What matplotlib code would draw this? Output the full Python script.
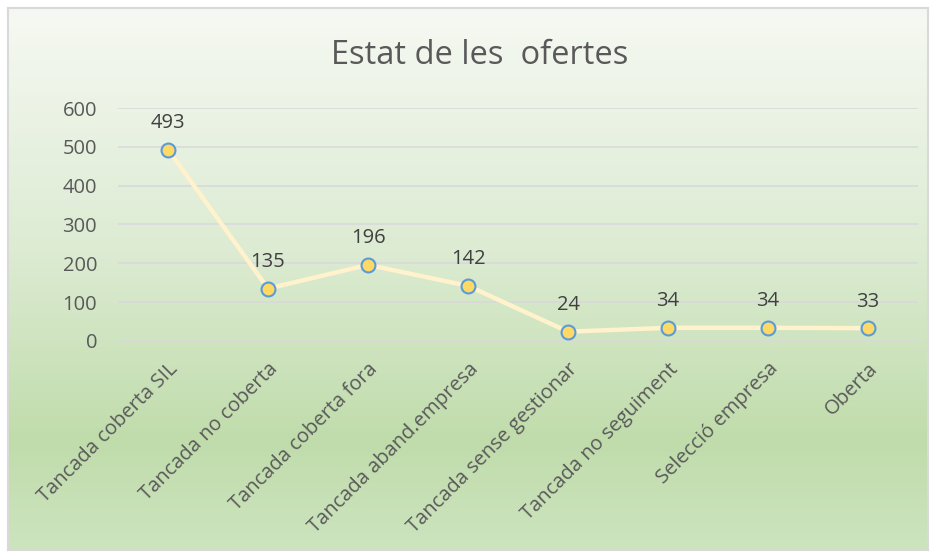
import numpy as np
import matplotlib.pyplot as plt
from matplotlib.colors import LinearSegmentedColormap

categories = ['Tancada coberta SIL', 'Tancada no coberta', 'Tancada coberta fora',
              'Tancada aband.empresa', 'Tancada sense gestionar', 'Tancada no seguiment',
              'Selecció empresa', 'Oberta']
values = [493, 135, 196, 142, 24, 34, 34, 33]
yticks = [0, 100, 200, 300, 400, 500, 600]

plt.rcParams['font.family'] = ['Open Sans', 'DejaVu Sans']

W, H = 936, 558
fig = plt.figure(figsize=(W / 100, H / 100), dpi=100)
fig.patch.set_facecolor('white')

# fondo con degradado
bg = fig.add_axes([8 / W, 8 / H, 920 / W, 542 / H], zorder=0)
grad = LinearSegmentedColormap.from_list('g', [(0.0, '#f6f9f3'), (0.45, '#dcebd2'),
                                               (0.8, '#c0dcab'), (1.0, '#cde4bf')])
bg.imshow(np.linspace(0, 1, 256).reshape(-1, 1), aspect='auto', cmap=grad,
          extent=[0, 1, 0, 1])
bg.set_xticks([])
bg.set_yticks([])
for s in bg.spines.values():
    s.set_color('#d9d9d9')
    s.set_linewidth(1.5)

ax = fig.add_axes([118 / W, 1 - 341 / H, 800 / W, 233 / H], zorder=1)
ax.patch.set_alpha(0)
x = np.arange(len(categories))
ax.plot(x, values, color='#fff2cc', lw=3.2, zorder=3, solid_capstyle='round')
ax.plot(x, values, 'o', ms=10, mfc='#ffd966', mec='#5b9bd5', mew=1.5, zorder=4)
for xi, v in zip(x, values):
    ax.annotate(str(v), (xi, v), xytext=(0, 12), textcoords='offset points',
                ha='center', va='bottom', fontsize=14.5, color='#404040')

ax.set_xlim(-0.5, len(categories) - 0.5)
ax.set_ylim(0, 600)
ax.set_yticks(yticks)
ax.grid(axis='y', color='#d9d9d9', lw=1.2)
ax.set_axisbelow(True)
for s in ax.spines.values():
    s.set_visible(False)
ax.tick_params(length=0, labelsize=14.5, labelcolor='#595959')
ax.tick_params(axis='y', pad=15)
ax.tick_params(axis='x', pad=13)
ax.set_xticks(x)
ax.set_xticklabels(categories, rotation=45, ha='right', rotation_mode='anchor',
                   fontsize=14.5)

fig.text(480 / W, 1 - 55 / H, 'Estat de les  ofertes', ha='center', va='center',
         fontsize=23.5, color='#595959')

fig.savefig('out.png', dpi=100)
